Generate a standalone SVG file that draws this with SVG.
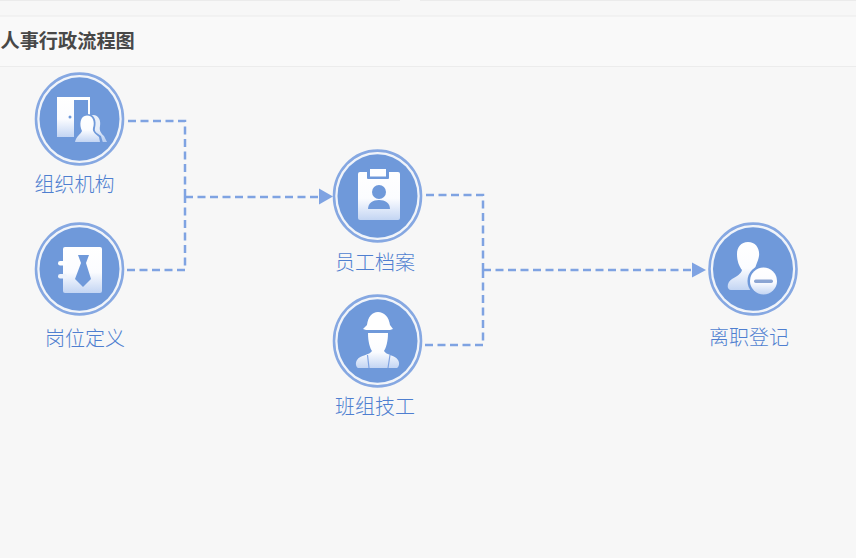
<svg xmlns="http://www.w3.org/2000/svg" width="856" height="558" viewBox="0 0 856 558">
<style>
.ring{fill:none;stroke:#86a8e2;stroke-width:2.6}
.disc{fill:#6f99da}
.gap{fill:#eef3fb}
.ic{fill:url(#w)}
.cut{fill:#6f99da}
.lb{font-family:"Noto Sans CJK SC","Liberation Sans",sans-serif;font-size:20px;font-weight:300;fill:#4f7fd0;text-anchor:middle}
.cn{fill:none;stroke:#7fa3e2;stroke-width:2.5;stroke-dasharray:8 4.5}
.ar{fill:#7fa3e2}
</style>
<defs>
<linearGradient id="w" x1="0" y1="0" x2="0" y2="1"><stop offset="0" stop-color="#ffffff"/><stop offset=".55" stop-color="#fbfcff"/><stop offset="1" stop-color="#c3d5f3"/></linearGradient>
<g id="base"><circle class="ring" r="43.500" transform="scale(1,1.045)"/><circle class="gap" r="41.500" transform="scale(1,1.045)"/><circle class="disc" r="40" transform="scale(1,1.045)"/></g>
</defs>
<rect width="856" height="558" fill="#f7f7f7"/>
<rect y="0" width="400" height="1" fill="#ebebeb"/>
<rect x="420" y="0" width="436" height="1" fill="#ebebeb"/>
<rect y="16" width="856" height="50" fill="#f9f9f9"/>
<rect y="15.500" width="856" height="1" fill="#ececec"/>
<rect y="66" width="856" height="1" fill="#ececec"/>
<text id="title" x="0.500" y="47.500" font-family="'Noto Sans CJK SC','Liberation Sans',sans-serif" font-size="19.200" font-weight="700" fill="#484848">人事行政流程图</text>
<g id="connectors">
<path class="cn" d="M128 121H185V197"/>
<path class="cn" d="M127 270H185V197"/>
<path class="cn" d="M185 197H320"/>
<path class="ar" d="M319 188.500L333 196.500L319 204.500Z"/>
<path class="cn" d="M426 195H483V270"/>
<path class="cn" d="M425 345H483V270"/>
<path class="cn" d="M483 270H693"/>
<path class="ar" d="M692 262.500L706 270L692 277.500Z"/>
</g>
<g id="n1">
<use href="#base" x="79.500" y="119"/>
<path class="ic" d="M57 97H90V115H88V100H74V137H57Z"/>
<circle cx="70" cy="117" r="1.500" class="cut"/>
<path class="ic" d="M93 115C99 115 101 121 100 126C99 131 101 133 104 136L107 142H92V132C93 127 92 120 90 116Z" opacity=".85"/>
<path d="M87 114C94 114 97 120 95 128C94 132 97 133 101 136L103 143H73C74 136 79 134 80 131C77 124 78 114 87 114Z" class="cut"/>
<path class="ic" d="M87 115.500C93 115.500 95 122 93 128C92 132 96 134 99 137L100 142H75C76 136 81 134 82 131C79 125 80 115.500 87 115.500Z"/>
<text class="lb" x="74.500" y="192">组织机构</text>
</g>
<g id="n2">
<use href="#base" x="79.500" y="269"/>
<rect class="ic" x="63" y="247" width="39" height="46" rx="2"/>
<rect x="58" y="261" width="9" height="4.500" rx="2.200" fill="#fff"/>
<rect x="58" y="274" width="9" height="4.500" rx="2.200" fill="#eef3fc"/>
<path d="M78 255H89L86 263L91 279L83 287L75 279L81 263Z" class="cut"/>
<text class="lb" x="85" y="345.500">岗位定义</text>
</g>
<g id="n3">
<use href="#base" x="377.500" y="196"/>
<rect class="ic" x="358" y="172" width="42" height="48" rx="2"/>
<rect x="367" y="167" width="22" height="12" rx="1" class="cut"/>
<rect x="370" y="169" width="16" height="7.500" fill="#fff"/>
<circle cx="379" cy="192" r="7" class="cut"/>
<path d="M368 209C368 203 373 200 379 200C385 200 390 203 390 209Z" class="cut"/>
<text class="lb" x="375" y="269.500">员工档案</text>
</g>
<g id="n4">
<use href="#base" x="377.500" y="341"/>
<path d="M367 325C368 317 372 312 378 312C384 312 389 317 390 325L393 329L390 330H366L363 329Z" fill="#fff"/>
<path class="ic" d="M368 333H388C388 342 386 348 384 351C386 355 395 355 398 360C400 363 399 367 397 368H358C356 367 355 363 357 360C360 355 370 355 372 351C370 348 368 342 368 333Z"/>
<path d="M367.500 355L369 368M390 355L388 368" stroke="#7fa3e2" stroke-width="1.200" fill="none"/>
<text class="lb" x="375" y="414">班组技工</text>
</g>
<g id="n5">
<use href="#base" x="753" y="269"/>
<path class="ic" d="M748 242C756 242 760 249 759 256C758 262 755 266 755 270C760 274 758 283 752 290H731C726 290 727 282 732 279C737 276 741 274 742 270C739 266 737 261 737 254C737 247 741 242 748 242Z"/>
<circle cx="763.500" cy="281" r="16" class="cut"/>
<circle class="ic" cx="763.500" cy="281" r="13.500"/>
<rect x="754" y="279.500" width="19" height="3.500" rx="1.700" fill="#8ba5d3"/>
<text class="lb" x="749" y="345">离职登记</text>
</g>
</svg>
